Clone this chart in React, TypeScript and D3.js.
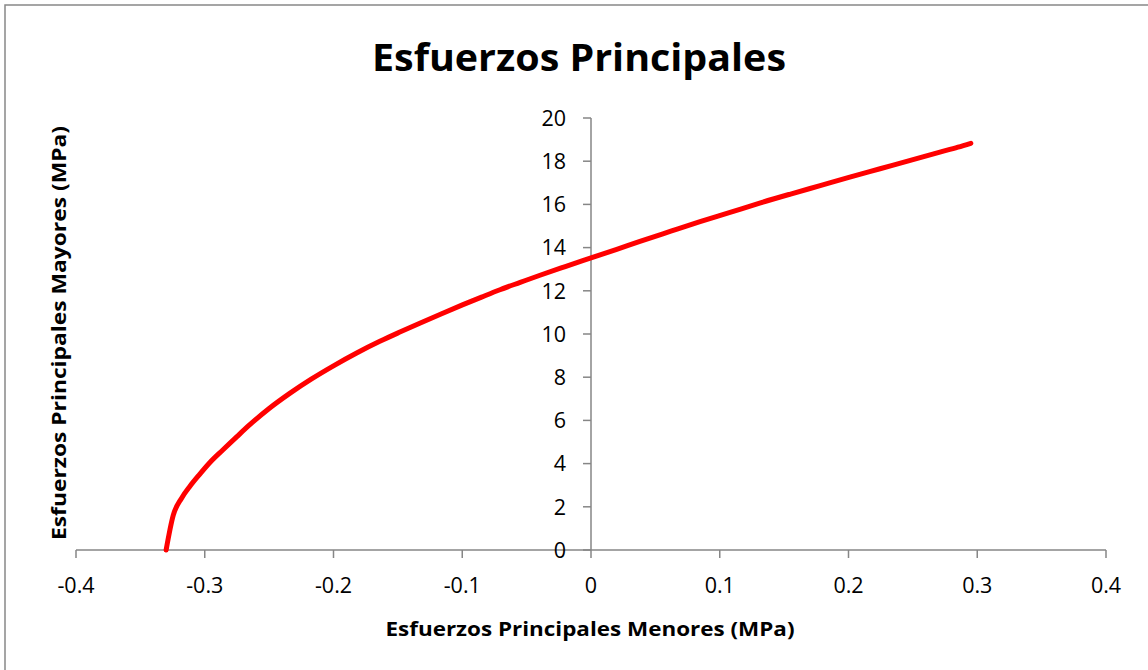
import React from "react";
import * as d3 from "d3";

const title = "Esfuerzos Principales";
const xLabel = "Esfuerzos Principales Menores (MPa)";
const yLabel = "Esfuerzos Principales Mayores (MPa)";

const sigma3 = [-0.330, -0.3245, -0.318, -0.3115, -0.304, -0.296, -0.286, -0.275, -0.265, -0.25, -0.234, -0.217, -0.199, -0.182, -0.164, -0.148, -0.133, -0.116, -0.0994, -0.085, -0.0707, -0.055, -0.0396, -0.02, 0, 0.02, 0.038, 0.062, 0.0847, 0.108, 0.131, 0.155, 0.178, 0.201, 0.2245, 0.248, 0.271, 0.285, 0.295];
const sigma1 = [0, 1.6, 2.4, 2.95, 3.5, 4.05, 4.63, 5.25, 5.8, 6.55, 7.25, 7.92, 8.56, 9.12, 9.66, 10.1, 10.5, 10.94, 11.36, 11.71, 12.05, 12.39, 12.72, 13.12, 13.52, 13.92, 14.29, 14.76, 15.2, 15.63, 16.06, 16.48, 16.87, 17.26, 17.65, 18.04, 18.42, 18.65, 18.83];

const xTicks = [-0.4, -0.3, -0.2, -0.1, 0, 0.1, 0.2, 0.3, 0.4];
const yTicks = [0, 2, 4, 6, 8, 10, 12, 14, 16, 18, 20];

const W = 1148;
const H = 670;
const FONT = "'Open Sans', 'Noto Sans', sans-serif";

export default function App() {
  const x = d3.scaleLinear().domain([-0.4, 0.4]).range([76, 1106]);
  const y = d3.scaleLinear().domain([0, 20]).range([550, 118]);
  const pts: [number, number][] = sigma3.map((v, i) => [v, sigma1[i]]);
  const line = d3
    .line<[number, number]>()
    .x((d) => x(d[0]))
    .y((d) => y(d[1]))
    .curve(d3.curveMonotoneX);
  const axisColor = "#868686";
  const x0 = x(0);
  const y0 = y(0);
  const fmt = (t: number) => (t === 0 ? "0" : d3.format(".1f")(t).replace("\u2212", "-"));
  return (
    <svg
      width={W}
      height={H}
      style={{ position: "absolute", left: 0, top: 0, background: "#fff" }}
    >
      <rect x={0} y={0} width={W} height={H} fill="#fff" />
      <rect x={5} y={5} width={W + 10} height={H + 10} fill="none" stroke="#888" strokeWidth={1.5} />
      <text
        x={579}
        y={71}
        textAnchor="middle"
        fontFamily={FONT}
        fontWeight="bold"
        fontSize={38}
        textLength={414}
        lengthAdjust="spacingAndGlyphs"
        fill="#000"
      >
        {title}
      </text>
      {/* x axis */}
      <line x1={x(-0.4)} x2={x(0.4)} y1={y0} y2={y0} stroke={axisColor} strokeWidth={1.5} />
      {xTicks.map((t) => (
        <g key={"xt" + t}>
          <line x1={x(t)} x2={x(t)} y1={y0} y2={y0 + 8} stroke={axisColor} strokeWidth={1.5} />
          <text
            x={x(t)}
            y={593}
            textAnchor="middle"
            fontFamily={FONT}
            fontSize={21.5}
            fill="#000"
          >
            {fmt(t)}
          </text>
        </g>
      ))}
      {/* y axis */}
      <line x1={x0} x2={x0} y1={y(20)} y2={y0} stroke={axisColor} strokeWidth={1.5} />
      {yTicks.map((t) => (
        <g key={"yt" + t}>
          <line x1={x0 - 8} x2={x0} y1={y(t)} y2={y(t)} stroke={axisColor} strokeWidth={1.5} />
          <text
            x={566}
            y={y(t)}
            dy="0.36em"
            textAnchor="end"
            fontFamily={FONT}
            fontSize={21.5}
            fill="#000"
          >
            {t}
          </text>
        </g>
      ))}
      <path
        d={line(pts) || ""}
        fill="none"
        stroke="#ff0000"
        strokeWidth={5}
        strokeLinecap="round"
        strokeLinejoin="round"
      />
      <text
        x={590}
        y={636}
        textAnchor="middle"
        fontFamily={FONT}
        fontWeight="bold"
        fontSize={19.5}
        textLength={409}
        lengthAdjust="spacingAndGlyphs"
        fill="#000"
      >
        {xLabel}
      </text>
      <text
        transform={`translate(66,333) rotate(-90)`}
        textAnchor="middle"
        fontFamily={FONT}
        fontWeight="bold"
        fontSize={19.5}
        textLength={414}
        lengthAdjust="spacingAndGlyphs"
        fill="#000"
      >
        {yLabel}
      </text>
    </svg>
  );
}
